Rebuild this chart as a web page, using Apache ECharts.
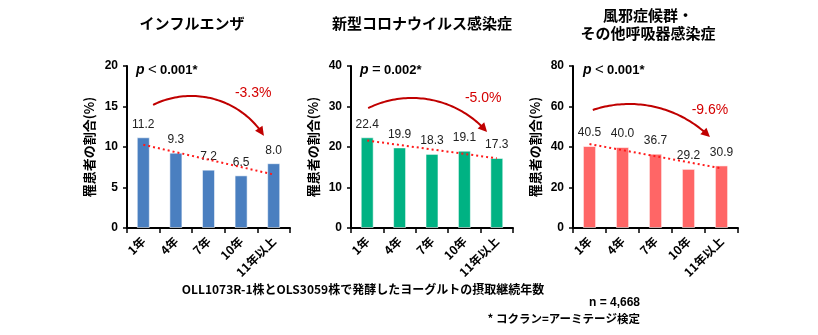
<!DOCTYPE html>
<html>
<head>
<meta charset="utf-8">
<script src="https://cdn.jsdelivr.net/npm/echarts@6/dist/echarts.min.js"></script>
<style>
  html, body { margin: 0; padding: 0; background: #fff; }
  #chart { width: 818px; height: 335px; }
</style>
</head>
<body>
<div id="chart"></div>
<script>
// Intake duration categories (x axis)
const categories = ['1年', '4年', '7年', '10年', '11年以上'];

// Share of people who fell ill (%), per infection type
const fluValues = [11.2, 9.3, 7.2, 6.5, 8.0];
const covidValues = [22.4, 19.9, 18.3, 19.1, 17.3];
const coldValues = [40.5, 40.0, 36.7, 29.2, 30.9];

// Y axis scales
const yMaxes = [20, 40, 80];
const yIntervals = [5, 10, 20];

// Panel texts
const panelTitles = [['インフルエンザ'], ['新型コロナウイルス感染症'], ['風邪症候群・', 'その他呼吸器感染症']];
const pOperators = ['<', '=', '<'];
const pValues = ['0.001*', '0.002*', '0.001*'];
const changeLabels = ['-3.3%', '-5.0%', '-9.6%'];

const FONT = '"Liberation Sans", "Noto Sans CJK JP", sans-serif';
const JP = '"Noto Sans CJK JP", "Liberation Sans", sans-serif';
const barColors = ['#4a7fc0', '#00b283', '#ff6666'];
const seriesValues = [fluValues, covidValues, coldValues];

// Layout of the three panels
const grids = [
  { left: 127, top: 66, width: 163, height: 162 },
  { left: 351, top: 66, width: 162, height: 162 },
  { left: 573, top: 66, width: 165, height: 162 }
];

// Curved arrow annotation: [category position, value] for start, apex, tip, and label
const arrowSpecs = [
  { start: [0.3, 15.2], apex: [1.43, 16.3], tip: [3.7, 11.4], label: [3.37, 16.7] },
  { start: [0.03, 29.6], apex: [1.33, 32.1], tip: [3.7, 23.7], label: [3.58, 32.1] },
  { start: [0.1, 58.3], apex: [1.32, 61.2], tip: [3.65, 44.9], label: [3.65, 58.3] }
];

// Least-squares linear trend across the categories
function trend(values) {
  const n = values.length;
  const xs = values.map((_, i) => i + 1);
  const mx = xs.reduce((a, b) => a + b, 0) / n;
  const my = values.reduce((a, b) => a + b, 0) / n;
  let sxy = 0, sxx = 0;
  for (let i = 0; i < n; i++) { sxy += (xs[i] - mx) * (values[i] - my); sxx += (xs[i] - mx) ** 2; }
  const slope = sxy / sxx;
  return xs.map(x => +(my + slope * (x - mx)).toFixed(3));
}

// Circle through three points, sampled from a through b to c
function arcPoints(a, b, c, steps) {
  const d = 2 * (a[0] * (b[1] - c[1]) + b[0] * (c[1] - a[1]) + c[0] * (a[1] - b[1]));
  const sa = a[0] * a[0] + a[1] * a[1], sb = b[0] * b[0] + b[1] * b[1], sc = c[0] * c[0] + c[1] * c[1];
  const ux = (sa * (b[1] - c[1]) + sb * (c[1] - a[1]) + sc * (a[1] - b[1])) / d;
  const uy = (sa * (c[0] - b[0]) + sb * (a[0] - c[0]) + sc * (b[0] - a[0])) / d;
  const r = Math.hypot(a[0] - ux, a[1] - uy);
  const TAU = Math.PI * 2;
  const ang = p => Math.atan2(p[1] - uy, p[0] - ux);
  const a0 = ang(a);
  const d1 = ((ang(b) - a0) % TAU + TAU) % TAU;
  const d2 = ((ang(c) - a0) % TAU + TAU) % TAU;
  const sweep = d1 < d2 ? d2 : -(TAU - d2);
  const pts = [];
  for (let i = 0; i <= steps; i++) {
    const t = a0 + sweep * i / steps;
    pts.push([ux + r * Math.cos(t), uy + r * Math.sin(t)]);
  }
  return pts;
}

function arrowRenderer(spec, label) {
  return function (params, api) {
    const band = api.size([1, 0])[0];
    const P = ([c, v]) => { const p = api.coord([0, v]); return [p[0] + c * band, p[1]]; };
    const s = P(spec.start), m = P(spec.apex), e = P(spec.tip);
    const pts = arcPoints(s, m, e, 60);
    const prev = pts[pts.length - 4];
    const dx = e[0] - prev[0], dy = e[1] - prev[1];
    const len = Math.hypot(dx, dy);
    const ux = dx / len, uy = dy / len;
    const headLen = 9, headHalf = 4.5;
    const base = [e[0] - ux * headLen, e[1] - uy * headLen];
    // trim the curve so it stops at the arrow head
    const line = pts.filter(p => ((p[0] - e[0]) * -ux + (p[1] - e[1]) * -uy) > headLen - 1 || p === pts[0]);
    line.push(base);
    const lp = P(spec.label);
    return {
      type: 'group',
      children: [
        { type: 'polyline', shape: { points: line }, style: { stroke: '#c00000', lineWidth: 2, fill: null } },
        { type: 'polygon', shape: { points: [e, [base[0] - uy * headHalf, base[1] + ux * headHalf], [base[0] + uy * headHalf, base[1] - ux * headHalf]] }, style: { fill: '#c00000' } },
        { type: 'text', x: lp[0], y: lp[1], style: { text: label, fill: '#d40000', font: '14px ' + FONT, align: 'center', verticalAlign: 'middle' } }
      ]
    };
  };
}

const xAxes = [], yAxes = [], series = [];
grids.forEach((g, i) => {
  xAxes.push({
    gridIndex: i, type: 'category', data: categories, boundaryGap: true,
    axisLine: { lineStyle: { color: '#000', width: 2 } },
    axisTick: { show: true, length: 5, lineStyle: { color: '#000', width: 1.5 } },
    axisLabel: { rotate: 45, margin: 11, color: '#000', fontWeight: 'bold', fontSize: 12, fontFamily: JP, interval: 0 }
  });
  yAxes.push({
    gridIndex: i, type: 'value', min: 0, max: yMaxes[i], interval: yIntervals[i],
    name: '罹患者の割合(%)', nameLocation: 'middle', nameGap: 31, nameRotate: 90,
    nameTextStyle: { color: '#000', fontWeight: 'bold', fontSize: 13, fontFamily: JP },
    axisLine: { show: true, lineStyle: { color: '#000', width: 2 } },
    axisTick: { show: true, length: 4, lineStyle: { color: '#000', width: 1.5 } },
    axisLabel: { margin: 9, color: '#000', fontWeight: 'bold', fontSize: 12, fontFamily: FONT },
    splitLine: { show: false }
  });
  series.push({
    type: 'bar', xAxisIndex: i, yAxisIndex: i, data: seriesValues[i], barWidth: '40%',
    itemStyle: { color: barColors[i], borderColor: 'rgba(255,255,255,0.55)', borderWidth: 1 },
    label: { show: true, position: 'top', distance: 7, color: '#222', fontSize: 12, fontFamily: FONT, formatter: p => p.value.toFixed(1) },
    silent: true
  });
  series.push({
    type: 'line', xAxisIndex: i, yAxisIndex: i, data: trend(seriesValues[i]), symbol: 'none', z: 5,
    lineStyle: { color: '#ff1a1a', width: 2, type: [2, 3] }, silent: true
  });
  series.push({
    type: 'custom', xAxisIndex: i, yAxisIndex: i, data: [[0, 0]], z: 6, silent: true,
    renderItem: arrowRenderer(arrowSpecs[i], changeLabels[i])
  });
});

// Static texts: panel titles, p values, x axis caption and notes
const graphics = [];
const titleCenters = [192, 422, 648];
panelTitles.forEach((lines, i) => {
  const y0 = lines.length === 1 ? 23 : 15;
  lines.forEach((t, k) => {
    graphics.push({ type: 'text', x: titleCenters[i], y: y0 + k * 18, style: { text: t, fill: '#000', font: 'bold 15px ' + JP, align: 'center', verticalAlign: 'middle' } });
  });
});
const pLefts = [136, 360, 583];
pLefts.forEach((x, i) => {
  graphics.push({
    type: 'text', x: x, y: 70,
    style: {
      text: '{i|p} {o|' + pOperators[i] + '} {b|' + pValues[i] + '}', verticalAlign: 'middle',
      rich: {
        i: { font: 'italic bold 14px ' + FONT, fill: '#000' },
        o: { font: '15px ' + FONT, fill: '#000' },
        b: { font: 'bold 13px ' + FONT, fill: '#000' }
      }
    }
  });
});
graphics.push({ type: 'text', x: 363, y: 289, style: { text: 'OLL1073R-1株とOLS3059株で発酵したヨーグルトの摂取継続年数', fill: '#000', font: 'bold 12px ' + JP, align: 'center', verticalAlign: 'middle' } });
graphics.push({ type: 'text', x: 640, y: 303, style: { text: 'n = 4,668', fill: '#000', font: 'bold 12px ' + FONT, align: 'right', verticalAlign: 'middle' } });
graphics.push({ type: 'text', x: 640, y: 319, style: { text: '* コクラン=アーミテージ検定', fill: '#000', font: 'bold 11.5px ' + JP, align: 'right', verticalAlign: 'middle' } });

const chart = echarts.init(document.getElementById('chart'), null, { renderer: 'canvas' });
chart.setOption({
  animation: false,
  backgroundColor: '#fff',
  grid: grids,
  xAxis: xAxes,
  yAxis: yAxes,
  series: series,
  graphic: graphics
});
</script>
</body>
</html>
